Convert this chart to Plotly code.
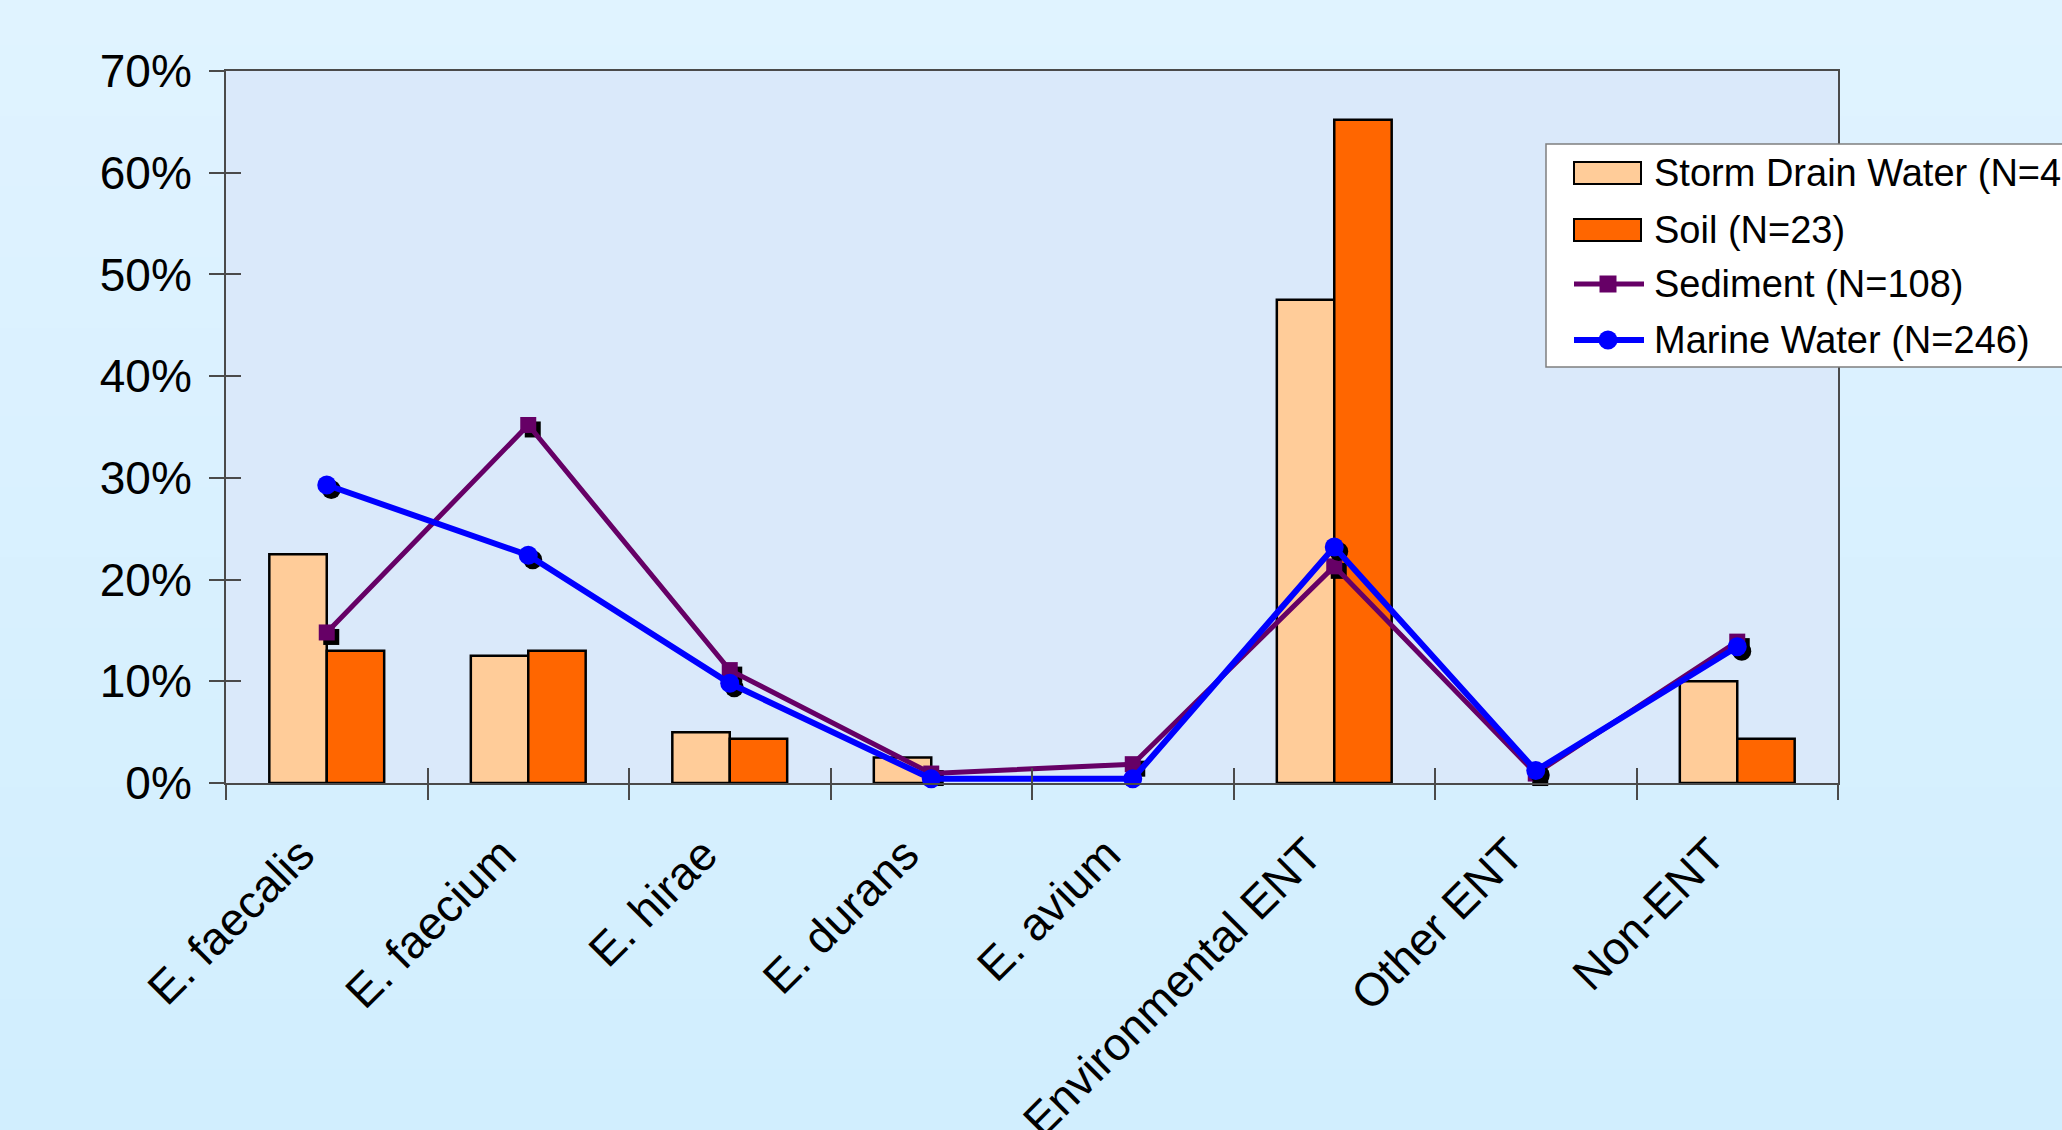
import base64
import struct
import zlib

import plotly.graph_objects as go

# ---- data -----------------------------------------------------------------
categories = ["E. faecalis", "E. faecium", "E. hirae", "E. durans", "E. avium",
              "Environmental ENT", "Other ENT", "Non-ENT"]
storm_drain = [0.225, 0.125, 0.050, 0.025, 0.000, 0.475, 0.000, 0.100]
soil = [0.130, 0.130, 0.0435, 0.000, 0.000, 0.652, 0.000, 0.0435]
sediment = [0.148, 0.352, 0.111, 0.0093, 0.0185, 0.213, 0.0093, 0.139]
marine = [0.293, 0.224, 0.098, 0.0041, 0.0041, 0.232, 0.0122, 0.134]
series_names = ["Storm Drain Water (N=40)", "Soil (N=23)",
                "Sediment (N=108)", "Marine Water (N=246)"]
y_ticks = [0.0, 0.1, 0.2, 0.3, 0.4, 0.5, 0.6, 0.7]

# ---- geometry / style -------------------------------------------------------
W, H = 2062, 1130
L, R, T, B = 226, 224, 71, 347
PW, PH = W - L - R, H - T - B
FONT = "Liberation Sans, Arial, sans-serif"
C_STORM, C_SOIL = "#FFCC99", "#FF6600"
C_SED, C_MAR = "#660066", "#0000FF"
AXIS_C = "#4A4A4A"
YMAX = 0.7

idx = list(range(len(categories)))
bounds = [i - 0.5 for i in range(len(categories) + 1)]
XMIN, XMAX = bounds[0], bounds[-1]


def px_x(px):
    return (px - L) / PW


def px_y(py):
    return (H - B - py) / PH


def gradient_png(top, bottom, n=64):
    """1-pixel-wide vertical gradient PNG as a data URI."""
    raw = b""
    for i in range(n):
        t = i / (n - 1)
        rgb = bytes(round(a + (b - a) * t) for a, b in zip(top, bottom))
        raw += b"\x00" + rgb

    def chunk(tag, data):
        c = tag + data
        return struct.pack(">I", len(data)) + c + struct.pack(">I", zlib.crc32(c) & 0xFFFFFFFF)

    png = (b"\x89PNG\r\n\x1a\n"
           + chunk(b"IHDR", struct.pack(">IIBBBBB", 1, n, 8, 2, 0, 0, 0))
           + chunk(b"IDAT", zlib.compress(raw))
           + chunk(b"IEND", b""))
    return "data:image/png;base64," + base64.b64encode(png).decode()


# marker drop shadow offset, converted from pixels to data units
SH = 4.5
sdx = SH / PW * (XMAX - XMIN)
sdy = SH / PH * YMAX

fig = go.Figure()


def bar_outline(vals):
    # empty categories get no outline, so nothing is drawn on the baseline
    return dict(color="black", width=[2.5 if v > 0 else 0 for v in vals])


fig.add_trace(go.Bar(x=idx, y=storm_drain, name=series_names[0],
                     marker=dict(color=C_STORM, line=bar_outline(storm_drain))))
fig.add_trace(go.Bar(x=idx, y=soil, name=series_names[1],
                     marker=dict(color=C_SOIL, line=bar_outline(soil))))

# line series live on the overlaid x2/y2 pair (same ranges), drawn above the bars
for vals, name, color, sym, size, lw in [
    (sediment, series_names[2], C_SED, "square", 16, 5),
    (marine, series_names[3], C_MAR, "circle", 19, 6),
]:
    fig.add_trace(go.Scatter(
        x=[i + sdx for i in idx], y=[v - sdy for v in vals], mode="markers",
        xaxis="x2", yaxis="y2",
        marker=dict(symbol=sym, size=size, color="black"),
        showlegend=False, hoverinfo="skip", cliponaxis=False))
    fig.add_trace(go.Scatter(
        x=idx, y=vals, name=name, mode="lines+markers",
        xaxis="x2", yaxis="y2",
        line=dict(color=color, width=lw),
        marker=dict(symbol=sym, size=size, color=color),
        cliponaxis=False))

# ---- custom legend (wide swatches, box running past the right edge) ----------
shapes = [
    # plot-area fill (drawn over the page gradient)
    dict(type="rect", xref="paper", yref="paper", x0=0, x1=1, y0=0, y1=1,
         fillcolor="#DAE9FA", line=dict(width=0), layer="below"),
    dict(type="rect", xref="paper", yref="paper",
         x0=px_x(1546), x1=px_x(2100), y0=px_y(367), y1=px_y(144),
         fillcolor="white", line=dict(color="#7F7F7F", width=1.5), layer="above"),
]
annotations = []
row_y = [173, 230, 284, 340]
sw_x0, sw_x1 = 1574, 1641
for k, name in enumerate(series_names):
    cy = row_y[k]
    if k < 2:
        shapes.append(dict(type="rect", xref="paper", yref="paper",
                           x0=px_x(sw_x0), x1=px_x(sw_x1),
                           y0=px_y(cy + 11), y1=px_y(cy - 11),
                           fillcolor=[C_STORM, C_SOIL][k],
                           line=dict(color="black", width=2)))
    else:
        col = [C_SED, C_MAR][k - 2]
        shapes.append(dict(type="line", xref="paper", yref="paper",
                           x0=px_x(sw_x0), x1=px_x(sw_x1 + 3), y0=px_y(cy), y1=px_y(cy),
                           line=dict(color=col, width=5 if k == 2 else 6)))
        half = 8.5 if k == 2 else 9.5
        shapes.append(dict(type="rect" if k == 2 else "circle",
                           xref="paper", yref="paper",
                           x0=px_x(1608 - half), x1=px_x(1608 + half),
                           y0=px_y(cy + half), y1=px_y(cy - half),
                           fillcolor=col, line=dict(width=0)))
    annotations.append(dict(text=name, xref="paper", yref="paper",
                            x=px_x(1652), y=px_y(cy), xanchor="left", yanchor="middle",
                            showarrow=False, font=dict(family=FONT, size=38, color="black")))

fig.update_layout(
    width=W, height=H,
    margin=dict(l=L, r=R, t=T, b=B, autoexpand=False),
    paper_bgcolor="#DAF1FF",
    plot_bgcolor="#DAE9FA",
    barmode="group", bargap=0.43, bargroupgap=0,
    showlegend=False,
    font=dict(family=FONT, color="black"),
    images=[dict(source=gradient_png((224, 243, 255), (209, 238, 254)),
                 xref="paper", yref="paper", x=px_x(0), y=px_y(0),
                 sizex=W / PW, sizey=H / PH, sizing="stretch",
                 xanchor="left", yanchor="top", layer="below")],
    shapes=shapes,
    annotations=annotations,
    xaxis=dict(range=[XMIN, XMAX], tickmode="array", tickvals=idx, ticktext=categories,
               tickangle=-45, ticks="", tickfont=dict(size=46, family=FONT),
               ticklabelstandoff=24, ticklabelshift=-26,
               minor=dict(tickmode="array", tickvals=bounds, ticks="outside",
                          ticklen=15, tickwidth=1.5, tickcolor=AXIS_C),
               showline=True, linecolor=AXIS_C, linewidth=2, mirror=True,
               showgrid=False, zeroline=False, fixedrange=True),
    xaxis2=dict(range=[XMIN, XMAX], overlaying="x", anchor="y2", side="bottom",
                tickmode="array", tickvals=bounds, ticks="inside", ticklen=15,
                tickwidth=1.5, tickcolor=AXIS_C, showticklabels=False,
                showline=False, showgrid=False, zeroline=False, fixedrange=True),
    yaxis=dict(range=[0, YMAX], tickmode="array", tickvals=y_ticks, tickformat=".0%",
               ticks="outside", ticklen=15, tickwidth=1.5, tickcolor=AXIS_C,
               tickfont=dict(size=46, family=FONT), ticklabelstandoff=8,
               showline=True, linecolor=AXIS_C, linewidth=2, mirror=True,
               showgrid=False, zeroline=False, fixedrange=True),
    yaxis2=dict(range=[0, YMAX], overlaying="y", anchor="x2", side="left",
                tickmode="array", tickvals=y_ticks, ticks="inside", ticklen=15,
                tickwidth=1.5, tickcolor=AXIS_C, showticklabels=False,
                showline=False, showgrid=False, zeroline=False, fixedrange=True),
)

fig.write_html("out.html")
